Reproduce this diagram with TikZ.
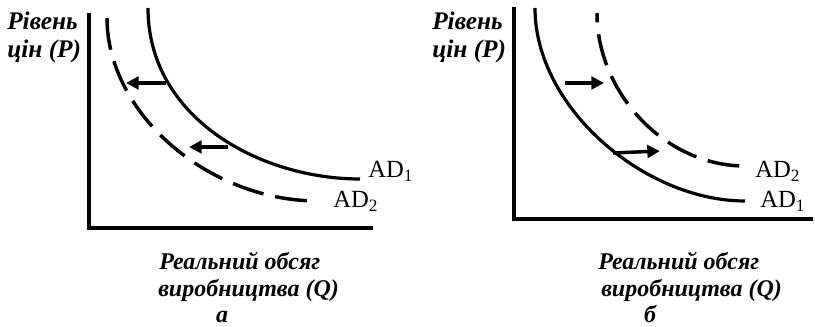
\documentclass[tikz,border=0pt]{standalone}
\usepackage{fontspec}
\setmainfont{Liberation Serif}
\usetikzlibrary{arrows.meta}
\begin{document}
\begin{tikzpicture}[x=0.75pt,y=-0.75pt,
  axisline/.style={line width=3pt, line join=miter},
  solidcurve/.style={line width=2.4pt},
  dashcurve/.style={line width=2.6pt, dash pattern=on 24pt off 9pt},
  shiftarrow/.style={line width=2.6pt, -{Triangle[length=9.5pt,width=9.5pt]}},
  lbl/.style={font=\fontsize{19}{22}\selectfont\bfseries\itshape, inner sep=0pt, anchor=base west},
  qlbl/.style={font=\fontsize{18}{21}\selectfont\bfseries\itshape, inner sep=0pt, anchor=base west},
  adl/.style={font=\fontsize{18.5}{21}\selectfont, inner sep=0pt, anchor=base west}]
\useasboundingbox (0,0) rectangle (815,327);

% ---------- panel a ----------
\coordinate (aTop) at (89,13);
\coordinate (aO) at (89,228);
\coordinate (aEnd) at (373,228);
\draw[axisline] (aTop) -- (aO) -- (aEnd);

\coordinate (aS0) at (148,8);
\coordinate (aS1) at (360,179);
\draw[solidcurve] (aS0) .. controls (148,118) and (260,179) .. (aS1);
\coordinate (aD0) at (107,18);
\coordinate (aD1) at (318,201);
\draw[dashcurve] (aD0) .. controls (107,113) and (208,201) .. (aD1);

\coordinate (aA1s) at (166,83);
\coordinate (aA1e) at (126,83);
\coordinate (aA2s) at (228,147);
\coordinate (aA2e) at (189,147);
\draw[shiftarrow] (aA1s) -- (aA1e);
\draw[shiftarrow] (aA2s) -- (aA2e);

\node[adl] (aAD1) at (368,178) {AD\textsubscript{1}};
\node[adl] (aAD2) at (333,208) {AD\textsubscript{2}};

\node[lbl] (aP1) at (7,30) {Рівень};
\node[lbl] (aP2) at (7,58) {цін (P)};
\node[qlbl] (aQ1) at (159,270) {Реальний обсяг};
\node[qlbl] (aQ2) at (158,297) {виробництва (Q)};
\node[qlbl, anchor=base] (aL) at (222,323) {а};

% ---------- panel b ----------
\coordinate (bTop) at (514,7);
\coordinate (bO) at (514,219);
\coordinate (bEnd) at (813,219);
\draw[axisline] (bTop) -- (bO) -- (bEnd);

\coordinate (bS0) at (535,8);
\coordinate (bS1) at (745,201);
\draw[solidcurve] (bS0) .. controls (535,108) and (645,201) .. (bS1);
\coordinate (bD0) at (597,13);
\coordinate (bD1) at (745,166);
\draw[dashcurve, dash phase=17pt] (bD0) .. controls (597,93) and (665,166) .. (bD1);

\coordinate (bA1s) at (565,83);
\coordinate (bA1e) at (604,83);
\coordinate (bA2s) at (613,153);
\coordinate (bA2e) at (660,151);
\draw[shiftarrow] (bA1s) -- (bA1e);
\draw[shiftarrow] (bA2s) -- (bA2e);

\node[adl] (bAD2) at (755,178) {AD\textsubscript{2}};
\node[adl] (bAD1) at (760,208) {AD\textsubscript{1}};

\node[lbl] (bP1) at (432,30) {Рівень};
\node[lbl] (bP2) at (432,58) {цін (P)};
\node[qlbl] (bQ1) at (598,270) {Реальний обсяг};
\node[qlbl] (bQ2) at (601,297) {виробництва (Q)};
\node[qlbl, anchor=base] (bL) at (650,323) {б};
\end{tikzpicture}
\end{document}
